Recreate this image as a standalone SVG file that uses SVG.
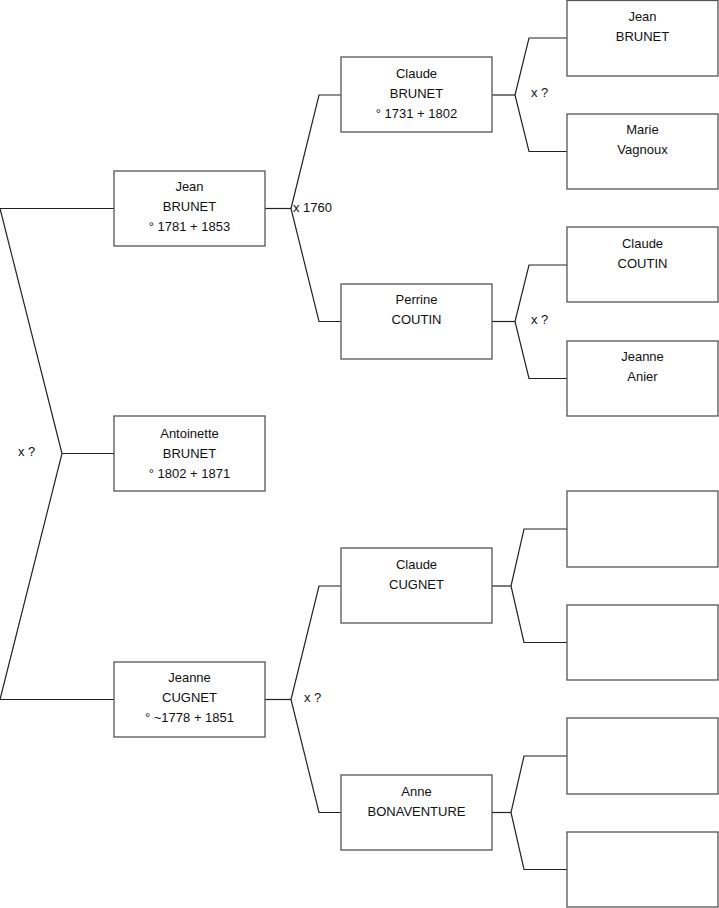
<svg xmlns="http://www.w3.org/2000/svg" width="719" height="908" viewBox="0 0 719 908">
<style>
.b{fill:#fff;stroke:#555;stroke-width:1.3}
.c{fill:none;stroke:#222;stroke-width:1.2}
text{font-family:"Liberation Sans",Arial,sans-serif;font-size:13px;fill:#111;text-anchor:middle}
.l{text-anchor:start}
</style>
<rect width="719" height="908" fill="#fff"/>
<g id="connectors">
<polyline class="c" points="114,208.5 0,208.5 62,453.5 0,699.5 114,699.5"/>
<line class="c" x1="62" y1="453.5" x2="114" y2="453.5"/>
<polyline class="c" points="341,95 319,95 291,208.5 319,321.5 341,321.5"/>
<line class="c" x1="265" y1="208.5" x2="291" y2="208.5"/>
<polyline class="c" points="341,586 319,586 291,699.5 319,812.5 341,812.5"/>
<line class="c" x1="265" y1="699.5" x2="291" y2="699.5"/>
<polyline class="c" points="567,38 529,38 515,95 529,151.5 567,151.5"/>
<line class="c" x1="492" y1="95" x2="515" y2="95"/>
<polyline class="c" points="567,265 529,265 515,321.5 529,378.5 567,378.5"/>
<line class="c" x1="492" y1="321.5" x2="515" y2="321.5"/>
<polyline class="c" points="567,529 524,529 511,586 524,642.5 567,642.5"/>
<line class="c" x1="492" y1="586" x2="511" y2="586"/>
<polyline class="c" points="567,756 524,756 511,812.5 524,869.5 567,869.5"/>
<line class="c" x1="492" y1="812.5" x2="511" y2="812.5"/>
<text class="l" x="18" y="456">x ?</text>
<text class="l" x="293" y="211.5">x 1760</text>
<text class="l" x="531" y="97">x ?</text>
<text class="l" x="531" y="324">x ?</text>
<text class="l" x="304" y="702">x ?</text>
</g>
<g id="n-jean-brunet-1781"><rect class="b" x="114" y="171" width="151" height="75"/><text x="189.5" y="191">Jean</text><text x="189.5" y="211">BRUNET</text><text x="189.5" y="231">° 1781 + 1853</text></g>
<g id="n-antoinette"><rect class="b" x="114" y="416" width="151" height="75"/><text x="189.5" y="438">Antoinette</text><text x="189.5" y="458">BRUNET</text><text x="189.5" y="478">° 1802 + 1871</text></g>
<g id="n-jeanne-cugnet"><rect class="b" x="114" y="662" width="151" height="75"/><text x="189.5" y="682">Jeanne</text><text x="189.5" y="702">CUGNET</text><text x="189.5" y="722">° ~1778 + 1851</text></g>
<g id="n-claude-brunet"><rect class="b" x="341" y="57" width="151" height="75"/><text x="416.5" y="78">Claude</text><text x="416.5" y="98">BRUNET</text><text x="416.5" y="118">° 1731 + 1802</text></g>
<g id="n-perrine-coutin"><rect class="b" x="341" y="284" width="151" height="75"/><text x="416.5" y="304">Perrine</text><text x="416.5" y="324">COUTIN</text></g>
<g id="n-claude-cugnet"><rect class="b" x="341" y="548" width="151" height="75"/><text x="416.5" y="569">Claude</text><text x="416.5" y="589">CUGNET</text></g>
<g id="n-anne-bonaventure"><rect class="b" x="341" y="775" width="151" height="75"/><text x="416.5" y="796">Anne</text><text x="416.5" y="816">BONAVENTURE</text></g>
<g id="n-jean-brunet-3"><rect class="b" x="567" y="0.5" width="151" height="75.5"/><text x="642.5" y="21">Jean</text><text x="642.5" y="41">BRUNET</text></g>
<g id="n-marie-vagnoux"><rect class="b" x="567" y="114" width="151" height="75"/><text x="642.5" y="134">Marie</text><text x="642.5" y="154">Vagnoux</text></g>
<g id="n-claude-coutin"><rect class="b" x="567" y="227" width="151" height="75"/><text x="642.5" y="248">Claude</text><text x="642.5" y="268">COUTIN</text></g>
<g id="n-jeanne-anier"><rect class="b" x="567" y="341" width="151" height="75"/><text x="642.5" y="361">Jeanne</text><text x="642.5" y="381">Anier</text></g>
<g id="n-empty-1"><rect class="b" x="567" y="491" width="151" height="76"/></g>
<g id="n-empty-2"><rect class="b" x="567" y="605" width="151" height="75"/></g>
<g id="n-empty-3"><rect class="b" x="567" y="718" width="151" height="76"/></g>
<g id="n-empty-4"><rect class="b" x="567" y="832" width="151" height="75"/></g>
</svg>
